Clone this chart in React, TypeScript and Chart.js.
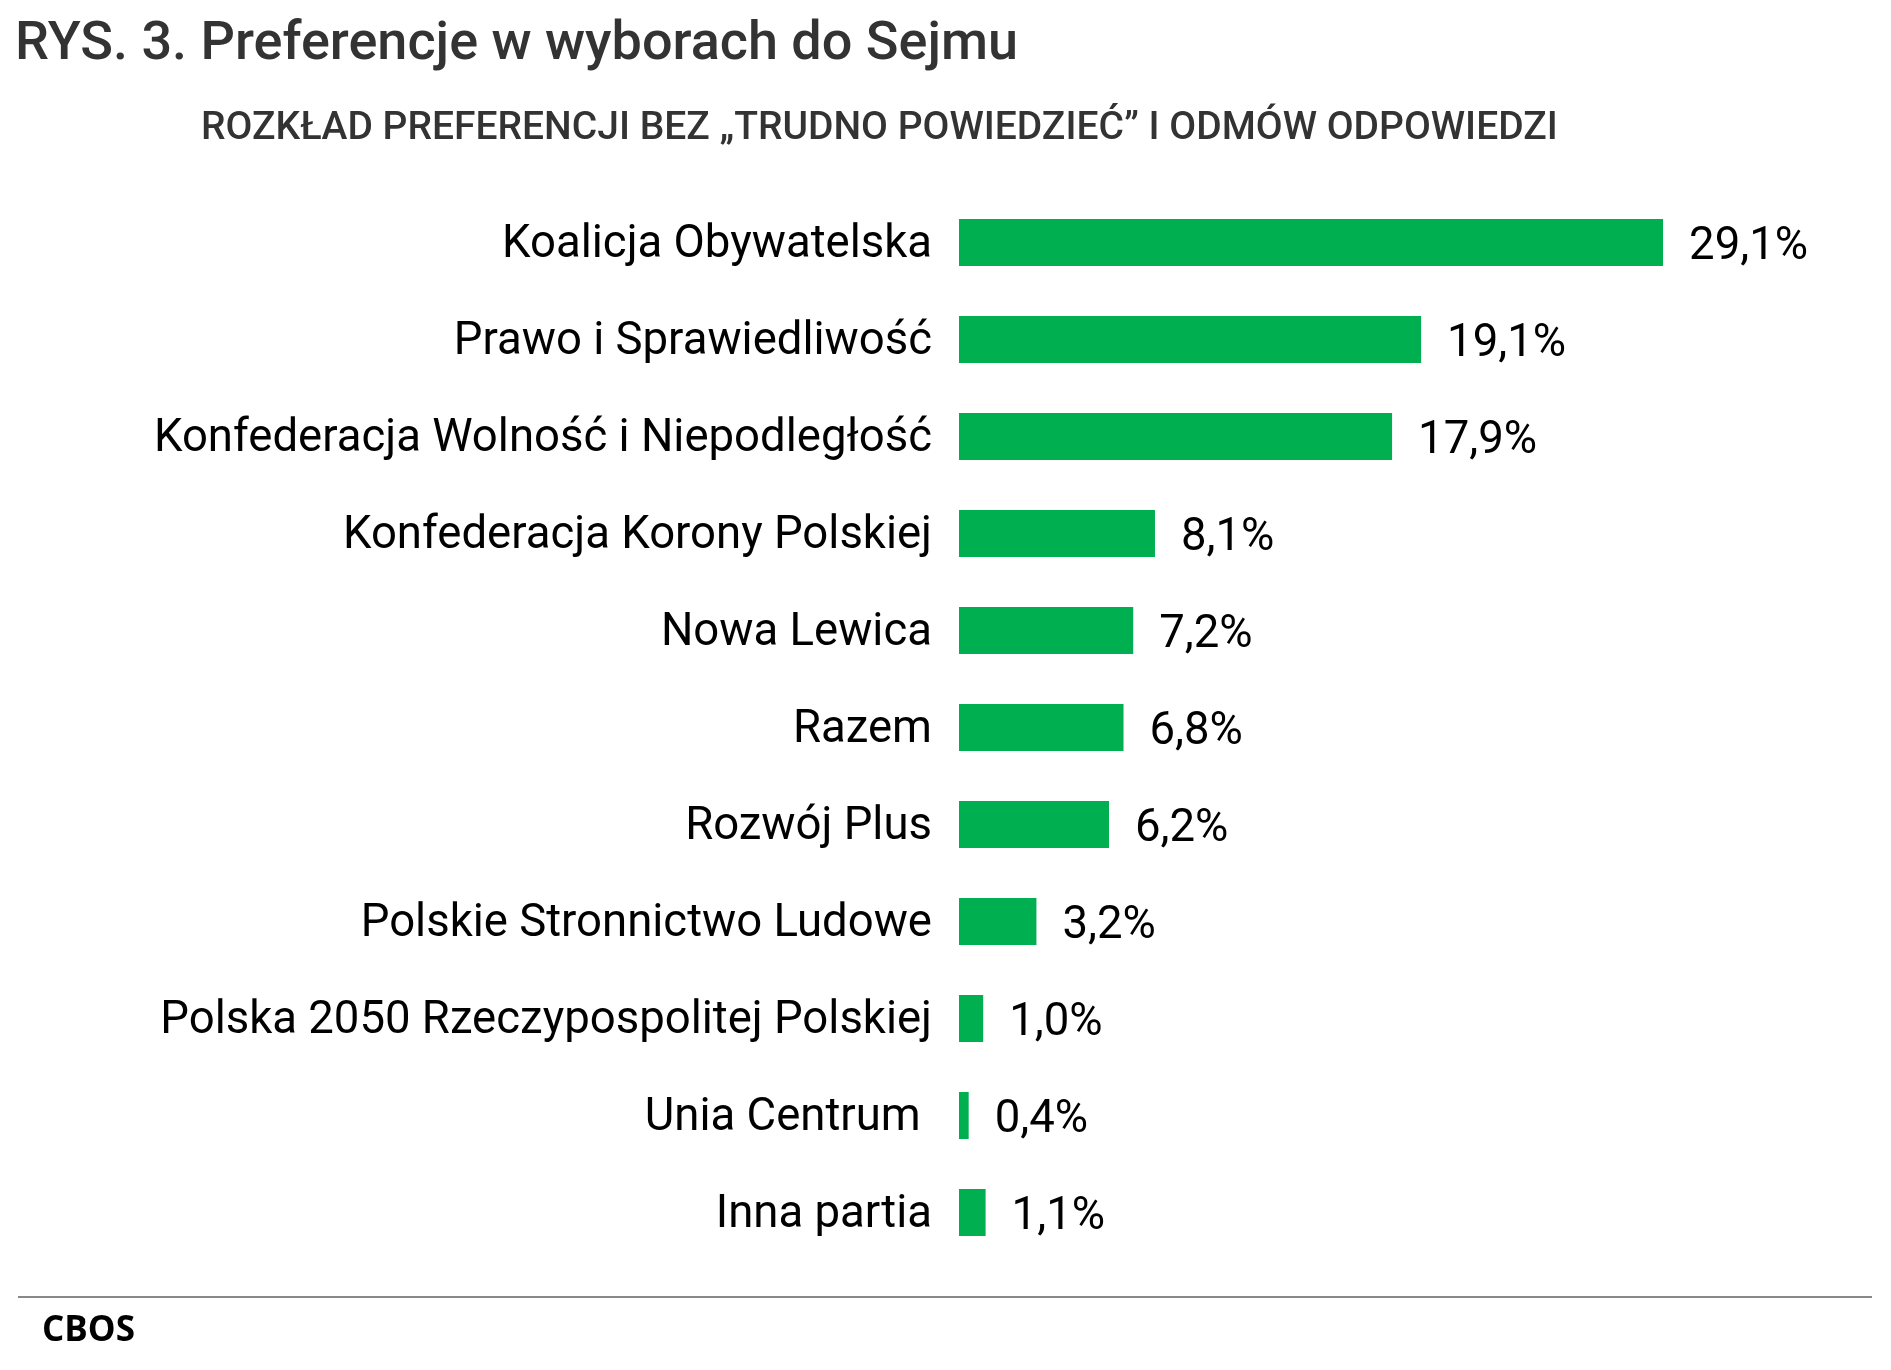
import { useEffect, useRef } from "react";
import { Chart, registerables } from "chart.js";

Chart.register(...registerables);

const parties = [
  "Koalicja Obywatelska",
  "Prawo i Sprawiedliwość",
  "Konfederacja Wolność i Niepodległość",
  "Konfederacja Korony Polskiej",
  "Nowa Lewica",
  "Razem",
  "Rozwój Plus",
  "Polskie Stronnictwo Ludowe",
  "Polska 2050 Rzeczypospolitej Polskiej",
  "Unia Centrum ",
  "Inna partia",
];

const shares = [29.1, 19.1, 17.9, 8.1, 7.2, 6.8, 6.2, 3.2, 1.0, 0.4, 1.1];

const title = "RYS. 3. Preferencje w wyborach do Sejmu";
const subtitle = "ROZKŁAD PREFERENCJI BEZ „TRUDNO POWIEDZIEĆ” I ODMÓW ODPOWIEDZI";
const source = "CBOS";

const GREEN = "#00B050";
const LABEL_SIZE = 45.5;

const formatShare = (v: number) => v.toFixed(1).replace(".", ",") + "%";

const valueLabels = {
  id: "valueLabels",
  afterDatasetsDraw(chart: Chart) {
    const ctx = chart.ctx;
    const meta = chart.getDatasetMeta(0);
    ctx.save();
    ctx.font = `${LABEL_SIZE}px Roboto`;
    ctx.fillStyle = "#000";
    ctx.textAlign = "left";
    ctx.textBaseline = "alphabetic";
    meta.data.forEach((bar: any, i: number) => {
      ctx.fillText(formatShare(shares[i]), bar.x + 26, bar.y + 16);
    });
    ctx.restore();
  },
};

function PreferenceChart() {
  const canvasRef = useRef<HTMLCanvasElement | null>(null);
  const chartInstance = useRef<Chart | null>(null);

  useEffect(() => {
    if (!canvasRef.current) return;
    const ctx = canvasRef.current.getContext("2d");
    if (!ctx) return;

    if (chartInstance.current) {
      chartInstance.current.destroy();
    }

    chartInstance.current = new Chart(ctx, {
      type: "bar",
      data: {
        labels: parties,
        datasets: [
          {
            data: shares,
            backgroundColor: GREEN,
            borderWidth: 0,
            barPercentage: 0.485,
            categoryPercentage: 1,
          },
        ],
      },
      options: {
        indexAxis: "y",
        animation: false,
        responsive: true,
        maintainAspectRatio: false,
        layout: {
          padding: { left: 0, right: 61, top: 194, bottom: 109 },
        },
        plugins: {
          legend: { display: false },
          tooltip: { enabled: false },
        },
        scales: {
          x: {
            display: false,
            min: 0,
            max: 36,
          },
          y: {
            grid: { display: false, drawTicks: false },
            border: { display: false },
            ticks: {
              color: "#000",
              padding: 27,
              labelOffset: 3,
              font: { family: "Roboto", size: LABEL_SIZE },
            },
            afterFit: (scale: any) => {
              scale.width = 959;
            },
          },
        },
      },
      plugins: [valueLabels],
    });

    return () => {
      if (chartInstance.current) {
        chartInstance.current.destroy();
        chartInstance.current = null;
      }
    };
  }, []);

  return <canvas ref={canvasRef} />;
}

export default function App() {
  return (
    <div
      style={{
        position: "absolute",
        left: 0,
        top: 0,
        width: 1891,
        height: 1370,
        background: "#fff",
        overflow: "hidden",
      }}
    >
      <div style={{ position: "absolute", left: 0, top: 0, width: 1891, height: 1370 }}>
        <PreferenceChart />
      </div>
      <div
        style={{
          position: "absolute",
          left: 15,
          top: 14,
          fontFamily: "Roboto",
          fontWeight: 500,
          fontSize: 54,
          lineHeight: 1,
          color: "#333",
          whiteSpace: "nowrap",
        }}
      >
        {title}
      </div>
      <div
        style={{
          position: "absolute",
          left: 201,
          top: 107,
          fontFamily: "Roboto",
          fontWeight: 500,
          fontSize: 39,
          lineHeight: 1,
          color: "#333",
          whiteSpace: "nowrap",
        }}
      >
        {subtitle}
      </div>
      <div
        style={{
          position: "absolute",
          left: 18,
          top: 1296,
          width: 1854,
          height: 2,
          background: "#888",
        }}
      />
      <div
        style={{
          position: "absolute",
          left: 42,
          top: 1310,
          fontFamily: "Open Sans",
          fontWeight: 700,
          fontSize: 35,
          lineHeight: 1,
          color: "#000",
        }}
      >
        {source}
      </div>
    </div>
  );
}
